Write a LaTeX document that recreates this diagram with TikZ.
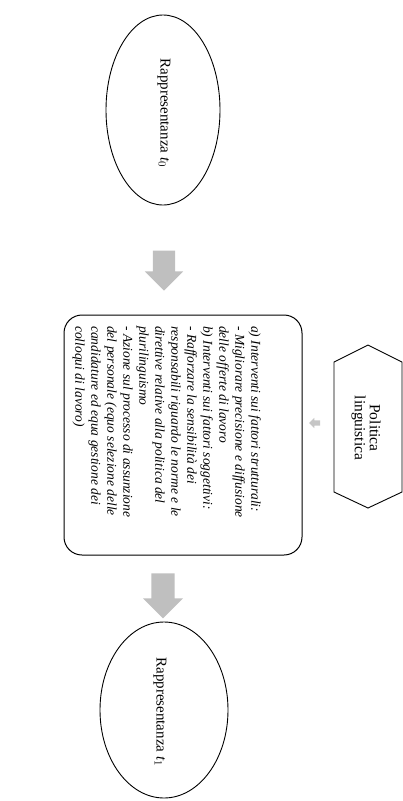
\documentclass[tikz,border=0pt]{standalone}
\usepackage{fontspec}
\setmainfont{Liberation Serif}
\usetikzlibrary{shapes.geometric,shapes.arrows}
\begin{document}
\begin{tikzpicture}[x=1pt,y=-1pt,
  oval/.style={draw, ellipse, line width=0.9pt, inner sep=0pt},
  blockarrow/.style={single arrow, rotate=-90, draw=none, fill=gray!50,
     inner sep=11pt, single arrow head extend=8pt},
  tinyarrow/.style={single arrow, rotate=180, draw=none, fill=gray!45,
     inner sep=2.5pt, single arrow head extend=2.5pt, minimum height=11pt},
  ovaltext/.style={rotate=-90, font=\fontsize{15}{17}\selectfont, inner sep=0pt},
  frame/.style={draw, line width=1pt, rounded corners=18pt},
  hexline/.style={draw, line width=0.9pt}
]
\useasboundingbox (0,0) rectangle (403,801);

% top ellipse
\node[oval, minimum width=114pt, minimum height=190pt] (r0) at (163,110) {};
\node[ovaltext] (r0t) at (164,113) {Rappresentanza \textit{t}$_{\scriptstyle 0}$};

% arrow 1
\node[blockarrow, minimum height=40pt, minimum width=38pt] (a1) at (164,265) {};

% main box
\draw[frame] (64,315) rectangle (302,555);
\node[rotate=-90, anchor=north west, align=left, inner sep=0pt,
      font=\itshape\fontsize{13.5}{16}\selectfont] (txt) at (261,326)
{a) Interventi sui fattori strutturali:\\
- Migliorare precisione e diffusione\\
delle offerte di lavoro\\
b) Interventi sui fattori soggettivi:\\
- Rafforzare la sensibilità dei\\
responsabili riguardo le norme e le\\
direttive relative alla politica del\\
plurilinguismo\\
- Azione sul processo di assunzione\\
del personale (equo selezione delle\\
candidature ed equa gestione dei\\
colloqui di lavoro)};

% small arrow
\node[tinyarrow, minimum width=10pt] (a0) at (316,423) {};

% hexagon
\path[hexline] (334,362) -- (368,345) -- (402,362) -- (402,492) -- (368,508) -- (334,492) -- cycle;
\node[rotate=-90, align=center, inner sep=0pt, font=\fontsize{15.5}{15}\selectfont] (pol) at (366,428)
{Politica\\linguistica};

% arrow 2
\node[blockarrow, minimum height=45pt, minimum width=40pt] (a2) at (163,590) {};

% bottom ellipse
\node[oval, minimum width=128pt, minimum height=176pt] (r1) at (164,710) {};
\node[ovaltext] (r1t) at (160,712) {Rappresentanza \textit{t}$_{\scriptstyle 1}$};
\end{tikzpicture}
\end{document}
